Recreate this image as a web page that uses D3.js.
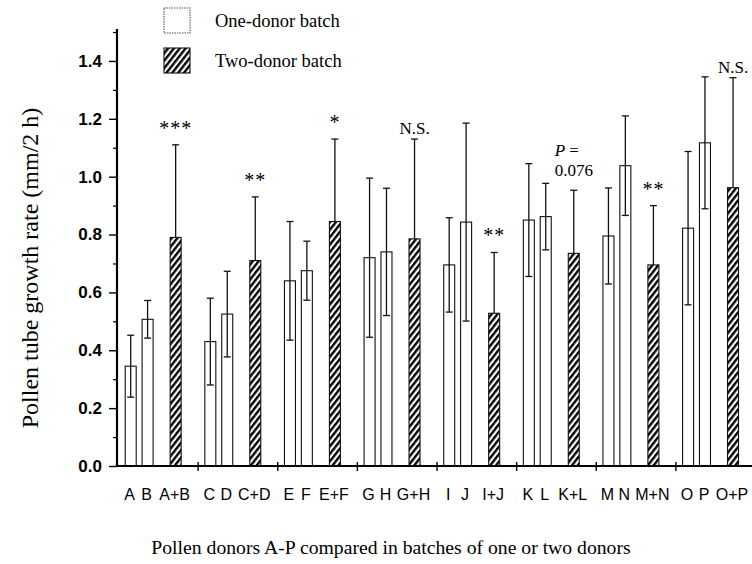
<html>
<head>
    <meta charset="utf-8">
    <title>Pollen tube growth rate</title>
    <style>
        body {
            margin: 0;
            padding: 0;
            background: white;
        }

        .serif {
            font-family: "Liberation Serif", "Times New Roman", serif;
        }

        .tick-labels text {
            font-family: "Liberation Sans", Arial, sans-serif;
            font-weight: bold;
            font-size: 17px;
        }

        .cat-label {
            font-family: "Liberation Sans", Arial, sans-serif;
            font-size: 16px;
        }
    </style>
</head>
<body>
    <div id="chart"></div>

    <script src="https://d3js.org/d3.v7.min.js"></script>
    <script>
        // values (mm / 2 h), mean and SD
        var groups = ["AB", "CD", "EF", "GH", "IJ", "KL", "MN", "OP"];
        var barLabels = ["A", "B", "A+B", "C", "D", "C+D", "E", "F", "E+F", "G", "H", "G+H",
            "I", "J", "I+J", "K", "L", "K+L", "M", "N", "M+N", "O", "P", "O+P"];
        var barKind = ["one", "one", "two"];
        var means = [0.345, 0.507, 0.79, 0.43, 0.525, 0.71, 0.64, 0.675, 0.845, 0.72, 0.74, 0.785,
            0.695, 0.843, 0.528, 0.85, 0.862, 0.735, 0.795, 1.038, 0.695, 0.822, 1.117, 0.962];
        var sds = [0.107, 0.065, 0.32, 0.15, 0.148, 0.22, 0.205, 0.102, 0.285, 0.275, 0.22, 0.345,
            0.163, 0.342, 0.21, 0.195, 0.115, 0.218, 0.166, 0.172, 0.205, 0.265, 0.228, 0.38];
        var sigLabels = ["***", "**", "*", "N.S.", "**", "P =|0.076", "**", "N.S."];
        var majorTicks = [0, 0.2, 0.4, 0.6, 0.8, 1.0, 1.2, 1.4];
        var minorTicks = [0.1, 0.3, 0.5, 0.7, 0.9, 1.1, 1.3, 1.5];

        var width = 752,
            height = 564,
            barW = 11;

        var svg = d3.select("#chart")
            .append("svg")
            .attr("width", width)
            .attr("height", height);

        var y = d3.scaleLinear()
            .domain([0, 1.5])
            .range([466, 32]);

        var xGroup = d3.scaleLinear()
            .domain([0, 8])
            .range([118, 755]);

        // slot 0 / 1 = single donors, slot 2.66 = the two-donor batch
        var xSlot = d3.scaleLinear()
            .domain([0, 1])
            .range([12.7, 29.6]);
        var slots = [0, 1, 2.66];

        var bars = barLabels.map(function (lab, i) {
            var g = Math.floor(i / 3),
                k = i % 3;
            return {
                label: lab,
                kind: barKind[k],
                mean: means[i],
                sd: sds[i],
                cx: xGroup(g) + xSlot(slots[k])
            };
        });

        // hatch pattern
        var defs = svg.append("defs");
        defs.append("pattern")
            .attr("id", "hatch")
            .attr("patternUnits", "userSpaceOnUse")
            .attr("width", 4.6)
            .attr("height", 10)
            .attr("patternTransform", "rotate(38)")
            .append("rect")
            .attr("width", 2.4)
            .attr("height", 10)
            .attr("fill", "black");

        // bars
        svg.append("g")
            .selectAll("rect")
            .data(bars)
            .enter()
            .append("rect")
            .attr("x", function (d) { return d.cx - barW / 2; })
            .attr("y", function (d) { return y(d.mean); })
            .attr("width", barW)
            .attr("height", function (d) { return y(0) - y(d.mean); })
            .attr("fill", function (d) { return d.kind == "two" ? "url(#hatch)" : "white"; })
            .attr("stroke", "#111")
            .attr("stroke-width", 1.1);

        // error bars (only upper half shows above the hatched bars)
        var err = svg.append("g")
            .attr("stroke", "#111")
            .attr("stroke-width", 1.3);

        err.selectAll("line.whisker")
            .data(bars)
            .enter()
            .append("line")
            .attr("class", "whisker")
            .attr("x1", function (d) { return d.cx; })
            .attr("x2", function (d) { return d.cx; })
            .attr("y1", function (d) { return y(d.mean + d.sd); })
            .attr("y2", function (d) { return d.kind == "two" ? y(d.mean) : y(d.mean - d.sd); });

        err.selectAll("line.capTop")
            .data(bars)
            .enter()
            .append("line")
            .attr("class", "capTop")
            .attr("x1", function (d) { return d.cx - 3.5; })
            .attr("x2", function (d) { return d.cx + 3.5; })
            .attr("y1", function (d) { return y(d.mean + d.sd); })
            .attr("y2", function (d) { return y(d.mean + d.sd); });

        err.selectAll("line.capBot")
            .data(bars.filter(function (d) { return d.kind == "one"; }))
            .enter()
            .append("line")
            .attr("class", "capBot")
            .attr("x1", function (d) { return d.cx - 3.5; })
            .attr("x2", function (d) { return d.cx + 3.5; })
            .attr("y1", function (d) { return y(d.mean - d.sd); })
            .attr("y2", function (d) { return y(d.mean - d.sd); });

        // significance labels above the two-donor bars
        var pairs = bars.filter(function (d) { return d.kind == "two"; });
        var sig = svg.append("g")
            .attr("class", "serif")
            .attr("font-size", "17px")
            .attr("text-anchor", "middle");

        pairs.forEach(function (d, i) {
            var txt = sigLabels[i],
                top = y(d.mean + d.sd);
            if (txt.indexOf("|") >= 0) {
                var parts = txt.split("|");
                var num = sig.append("text")
                    .attr("x", d.cx)
                    .attr("y", top - 14)
                    .text(parts[1]);
                var w = num.node().getComputedTextLength();
                var p = sig.append("text")
                    .attr("x", d.cx - w / 2)
                    .attr("y", top - 34)
                    .attr("text-anchor", "start");
                p.append("tspan").attr("font-style", "italic").text("P");
                p.append("tspan").text(parts[0].slice(1));
            } else if (txt.charAt(0) == "*") {
                sig.append("text")
                    .attr("x", d.cx)
                    .attr("y", top - 10)
                    .attr("font-size", "20px")
                    .attr("letter-spacing", "1px")
                    .text(txt);
            } else {
                sig.append("text")
                    .attr("x", d.cx)
                    .attr("y", top - 5)
                    .text(txt);
            }
        });

        // y axis
        svg.append("g")
            .attr("transform", "translate(117,0)")
            .attr("class", "tick-labels")
            .call(d3.axisLeft(y).tickValues(majorTicks).tickSize(8).tickPadding(7).tickFormat(d3.format(".1f")))
            .call(function (g) {
                g.select(".domain").attr("stroke-width", 2.2).attr("d", "M0," + y(0) + "V" + (y(1.5) - 3));
                g.selectAll(".tick line").attr("stroke-width", 1.4);
                g.selectAll(".tick text").attr("font-size", "17px").attr("font-family", null);
            });

        svg.append("g")
            .attr("transform", "translate(117,0)")
            .call(d3.axisLeft(y).tickValues(minorTicks).tickSize(4).tickFormat(""))
            .call(function (g) {
                g.select(".domain").remove();
                g.selectAll(".tick line").attr("stroke-width", 1.2);
            });

        // x axis, ticks mark the batch boundaries
        svg.append("g")
            .attr("transform", "translate(0," + y(0) + ")")
            .call(d3.axisBottom(xGroup).tickValues(d3.range(1, 8)).tickSize(5).tickFormat(""))
            .call(function (g) {
                g.select(".domain").attr("stroke-width", 2).attr("d", "M117,0H752");
                g.selectAll(".tick line").attr("y1", -4).attr("stroke-width", 1.4);
            });

        svg.append("g")
            .selectAll("text")
            .data(bars)
            .enter()
            .append("text")
            .attr("class", "cat-label")
            .attr("x", function (d) { return d.cx - 1; })
            .attr("y", 500)
            .attr("text-anchor", "middle")
            .text(function (d) { return d.label; });

        // axis titles
        svg.append("text")
            .attr("class", "serif")
            .attr("font-size", "24px")
            .attr("text-anchor", "middle")
            .attr("transform", "translate(38,268) rotate(-90)")
            .text("Pollen tube growth rate (mm/2 h)");

        svg.append("text")
            .attr("class", "serif")
            .attr("font-size", "19.7px")
            .attr("text-anchor", "middle")
            .attr("x", 391)
            .attr("y", 554)
            .text("Pollen donors A-P compared in batches of one or two donors");

        // legend
        var legend = svg.append("g").attr("class", "serif");
        var legendItems = ["One-donor batch", "Two-donor batch"];
        legendItems.forEach(function (name, i) {
            legend.append("rect")
                .attr("x", 164)
                .attr("y", 8 + i * 40)
                .attr("width", 26)
                .attr("height", 25)
                .attr("fill", i == 0 ? "white" : "url(#hatch)")
                .attr("stroke", i == 0 ? "#555" : "#111")
                .attr("stroke-dasharray", i == 0 ? "1.5,1" : null)
                .attr("stroke-width", 1.1);
            legend.append("text")
                .attr("x", 215)
                .attr("y", 27 + i * 40)
                .attr("font-size", "18.5px")
                .text(name);
        });
    </script>
</body>
</html>
